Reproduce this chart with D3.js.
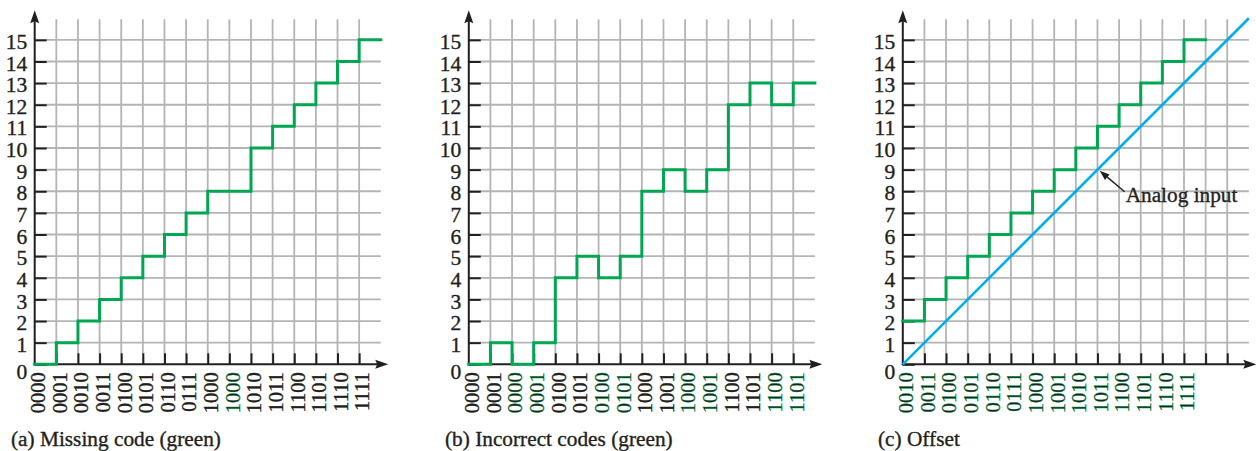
<!DOCTYPE html>
<html>
<head>
<meta charset="utf-8">
<script src="https://cdn.jsdelivr.net/npm/d3@7"></script>
<style>
  html, body { margin: 0; padding: 0; background: #fff; }
  svg { display: block; }
  text { font-family: "Liberation Serif", "Times New Roman", serif; fill: #231f20; }
</style>
</head>
<body>
<svg id="chart" width="1256" height="451"></svg>
<script>
// ---- data ----------------------------------------------------------------
const yTickValues = d3.range(0, 16);            // 0 … 15 on the vertical axis

// (a) missing code: output level for each input step
const levelsA = [0, 1, 2, 3, 4, 5, 6, 7, 8, 8, 10, 11, 12, 13, 14, 15];
const codesA  = ["0000","0001","0010","0011","0100","0101","0110","0111",
                 "1000","1000","1010","1011","1100","1101","1110","1111"];
const greenA  = [9];

// (b) incorrect codes
const levelsB = [0, 1, 0, 1, 4, 5, 4, 5, 8, 9, 8, 9, 12, 13, 12, 13];
const codesB  = ["0000","0001","0000","0001","0100","0101","0100","0101",
                 "1000","1001","1000","1001","1100","1101","1100","1101"];
const greenB  = [2, 3, 6, 7, 10, 11, 14, 15];

// (c) offset
const levelsC = [2, 3, 4, 5, 6, 7, 8, 9, 10, 11, 12, 13, 14, 15];
const codesC  = ["0010","0011","0100","0101","0110","0111","1000",
                 "1001","1010","1011","1100","1101","1110","1111"];
const greenC  = d3.range(0, 14);
const analogInput = [[0, 0], [16, 16]];
const analogNote = { text: "Analog input", at: [9.1, 8.95] };

const captions = ["(a) Missing code (green)", "(b) Incorrect codes (green)", "(c) Offset"];

// ---- layout --------------------------------------------------------------
const GREEN = "#00a651", BLUE = "#00aeef", GRID = "#b4b4b6", INK = "#231f20";
const cell = 21.63;
const baseY = 364.3;
const panels = [
  { x0: 34.7,  levels: levelsA, codes: codesA, green: greenA, capX: 11 },
  { x0: 468.8, levels: levelsB, codes: codesB, green: greenB, capX: 445 },
  { x0: 902.8, levels: levelsC, codes: codesC, green: greenC, capX: 878, analog: true }
];

const svg = d3.select("#chart");

// slightly heavier text, like a printed serif face
function ink(sel, color) {
  sel.attr("fill", color).attr("stroke", color).attr("stroke-width", 0.35);
}

panels.forEach((p, k) => {
  const x = d3.scaleLinear().domain([0, 16]).range([p.x0, p.x0 + 16 * cell]);
  const y = d3.scaleLinear().domain([0, 16]).range([baseY, baseY - 16 * cell]);
  const g = svg.append("g");

  // grid
  const grid = g.append("g").attr("stroke", GRID).attr("stroke-width", 1.8);
  grid.selectAll("line.v").data(d3.range(1, 16)).join("line")
    .attr("class", "v")
    .attr("x1", d => x(d)).attr("x2", d => x(d))
    .attr("y1", y(0)).attr("y2", y(15.95));
  grid.selectAll("line.h").data(d3.range(1, 16)).join("line")
    .attr("class", "h")
    .attr("x1", x(0)).attr("x2", x(16))
    .attr("y1", d => y(d)).attr("y2", d => y(d));

  // vertical axis: ticks point into the plot, labels to the left
  const yAxis = g.append("g")
    .attr("transform", `translate(${x(0)},0)`)
    .call(d3.axisLeft(y).tickValues(yTickValues).tickSize(-12).tickPadding(7.5));
  yAxis.select(".domain").remove();
  yAxis.selectAll(".tick line").attr("stroke", INK).attr("stroke-width", 2);
  yAxis.selectAll(".tick text")
    .attr("font-size", 21.5)
    .attr("font-family", "Liberation Serif")
    .attr("dy", d => d === 0 ? "0.68em" : "0.4em")
    .call(ink, INK);

  // horizontal axis: binary codes rotated under each step
  const xAxis = g.append("g")
    .attr("transform", `translate(0,${y(0)})`)
    .call(d3.axisBottom(x).tickValues(d3.range(0, 16)).tickSize(-11)
      .tickFormat(i => p.codes[i] || ""));
  xAxis.select(".domain").remove();
  xAxis.selectAll(".tick line").attr("stroke", INK).attr("stroke-width", 2)
    .attr("opacity", d => d === 0 ? 0 : 1);
  xAxis.selectAll(".tick text")
    .attr("font-size", 20.5)
    .attr("font-family", "Liberation Serif")
    .attr("text-anchor", "end")
    .attr("transform", "rotate(-90)")
    .attr("x", -8).attr("y", 9.8).attr("dy", 0)
    .each(function (i) { ink(d3.select(this), p.green.includes(i) ? GREEN : INK); });

  // axis lines with arrowheads
  const ax = g.append("g").attr("stroke", INK).attr("stroke-width", 2).attr("fill", "none");
  const yTop = y(0) - 354, xEnd = x(0) + 353.5;
  ax.append("line").attr("x1", x(0)).attr("x2", x(0)).attr("y1", y(0) + 1).attr("y2", yTop + 8);
  ax.append("line").attr("x1", x(0) - 1).attr("x2", xEnd - 8).attr("y1", y(0)).attr("y2", y(0));
  g.append("path")
    .attr("d", `M${x(0)},${yTop} L${x(0) - 4.5},${yTop + 13} L${x(0)},${yTop + 11} L${x(0) + 4.5},${yTop + 13} Z`)
    .attr("fill", INK);
  g.append("path")
    .attr("d", `M${xEnd},${y(0)} L${xEnd - 13},${y(0) - 4.5} L${xEnd - 11},${y(0)} L${xEnd - 13},${y(0) + 4.5} Z`)
    .attr("fill", INK);

  // analog input reference line
  if (p.analog) {
    g.append("path")
      .attr("d", d3.line().x(d => x(d[0])).y(d => y(d[1]))(analogInput))
      .attr("fill", "none").attr("stroke", BLUE).attr("stroke-width", 2.6);
  }

  // converter output staircase
  const pts = p.levels.map((v, i) => [i, v]);
  pts.push([p.levels.length, p.levels[p.levels.length - 1]]);
  g.append("path")
    .attr("d", d3.line().x(d => x(d[0])).y(d => y(d[1])).curve(d3.curveStepAfter)(pts))
    .attr("fill", "none").attr("stroke", GREEN).attr("stroke-width", 3)
    .attr("stroke-linejoin", "miter").attr("stroke-linecap", "square");

  // note with pointer
  if (p.analog) {
    const tx = x(analogNote.at[0]), ty = y(analogNote.at[1]);
    const sx = tx + 25, sy = ty + 21;
    const ang = Math.atan2(ty - sy, tx - sx);
    const L = 10, W = 3.6;
    const bx = tx - L * Math.cos(ang), by = ty - L * Math.sin(ang);
    g.append("line").attr("x1", sx).attr("y1", sy).attr("x2", bx).attr("y2", by)
      .attr("stroke", INK).attr("stroke-width", 1.4);
    g.append("path")
      .attr("d", `M${tx},${ty} L${bx + W * Math.sin(ang)},${by - W * Math.cos(ang)} L${bx - W * Math.sin(ang)},${by + W * Math.cos(ang)} Z`)
      .attr("fill", INK);
    g.append("text").attr("x", tx + 26).attr("y", ty + 31)
      .attr("font-size", 21.3).text(analogNote.text).call(ink, INK);
  }

  // caption
  svg.append("text").attr("x", p.capX).attr("y", 446)
    .attr("font-size", 21.3).text(captions[k]).call(ink, INK);
});
</script>
</body>
</html>
